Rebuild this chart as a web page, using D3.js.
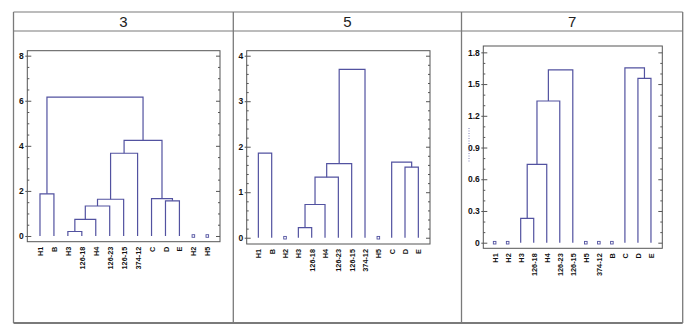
<!DOCTYPE html>
<html><head><meta charset="utf-8">
<script src="https://cdn.jsdelivr.net/npm/d3@7"></script>
<style>body{margin:0;background:#fff} svg{display:block}</style>
</head><body>
<svg id="c" width="700" height="336"></svg>
<script>
const panelTitles = ["3","5","7"];

// Panel "3"
const leaves3 = ["H1","B","H3","126-18","H4","126-23","126-15","374-12","C","D","E","H2","H5"];
const merges3 = [
  ["H1","B",1.87],
  ["H3","126-18",0.2],
  [1,"H4",0.74],
  [2,"126-23",1.33],
  [3,"126-15",1.63],
  [4,"374-12",3.67],
  ["D","E",1.56],
  ["C",6,1.66],
  [5,7,4.24],
  [0,8,6.16]
];
const ticks3 = [0,2,4,6,8];
const minorStep3 = 0.5;

// Panel "5"
const leaves5 = ["H1","B","H2","H3","126-18","H4","126-23","126-15","374-12","H5","C","D","E"];
const merges5 = [
  ["H1","B",1.86],
  ["H3","126-18",0.22],
  [1,"H4",0.73],
  [2,"126-23",1.33],
  [3,"126-15",1.63],
  [4,"374-12",3.70],
  ["D","E",1.55],
  ["C",6,1.66]
];
const ticks5 = [0,1,2,3,4];
const minorStep5 = 0.2;

// Panel "7"
const leaves7 = ["H1","H2","H3","126-18","H4","126-23","126-15","H5","374-12","B","C","D","E"];
const merges7 = [
  ["H3","126-18",0.23],
  [0,"H4",0.74],
  [1,"126-23",1.34],
  [2,"126-15",1.635],
  ["D","E",1.553],
  ["C",4,1.654]
];
const ticks7 = [0,0.3,0.6,0.9,1.2,1.5,1.8];
const minorStep7 = 0.1;

const svg = d3.select("#c");
const lineColor = "#5252a0";

// Outer table
const colX = [13.5, 233.3, 461.5, 682.7];
const tTop = 12, tHead = 31, tBot = 323;
const tbl = svg.append("g").attr("fill","none").attr("stroke","#7a7a7a");
tbl.append("line").attr("x1",colX[0]).attr("x2",colX[3]).attr("y1",tTop).attr("y2",tTop).attr("stroke-width",1.2);
tbl.append("line").attr("x1",colX[0]).attr("x2",colX[3]).attr("y1",tHead).attr("y2",tHead).attr("stroke-width",1.2);
tbl.append("line").attr("x1",colX[0]).attr("x2",colX[3]).attr("y1",tBot).attr("y2",tBot).attr("stroke-width",2);
colX.forEach(x=>tbl.append("line").attr("x1",x).attr("x2",x).attr("y1",tTop).attr("y2",tBot).attr("stroke-width",1.3));
panelTitles.forEach((t,i)=>{
  svg.append("text").attr("x",(colX[i]+colX[i+1])/2).attr("y",26.5)
    .attr("text-anchor","middle").attr("font-family","Liberation Sans, Arial, sans-serif")
    .attr("font-size",15).attr("fill","#222").text(t);
});

const panels = [
  {leaves:leaves3, merges:merges3, ticks:ticks3, minor:minorStep3, x0:27.3, x1:220, pad:0.91,
   dom:[-0.253,8.22], yr:[241.7,50.7]},
  {leaves:leaves5, merges:merges5, ticks:ticks5, minor:minorStep5, x0:246.7, x1:430, pad:0.875,
   dom:[-0.138,4.11], yr:[244,50.7]},
  {leaves:leaves7, merges:merges7, ticks:ticks7, minor:minorStep7, x0:483.3, x1:662.3, pad:0.87,
   dom:[-0.053,1.86], yr:[248.3,46]}
];

panels.forEach(p=>{
  const g = svg.append("g");
  const x = d3.scalePoint().domain(p.leaves).range([p.x0,p.x1]).padding(p.pad);
  const y = d3.scaleLinear().domain(p.dom).range(p.yr);
  const top = p.ticks[p.ticks.length-1];
  const minor = d3.range(0, top + p.minor/2, p.minor).map(v=>+v.toFixed(4))
      .filter(v=>!p.ticks.some(t=>Math.abs(t-v)<1e-6));
  const fmt = v => String(+v.toFixed(2));

  // frame
  g.append("rect").attr("x",p.x0).attr("y",p.yr[1]).attr("width",p.x1-p.x0).attr("height",p.yr[0]-p.yr[1])
    .attr("fill","none").attr("stroke","#555").attr("stroke-width",1);

  const styleAxis = a => { a.select(".domain").remove(); a.selectAll("line").attr("stroke","#555"); };
  // left major (inward) with labels
  const la = g.append("g").attr("transform",`translate(${p.x0},0)`)
    .call(d3.axisLeft(y).tickValues(p.ticks).tickSize(-4).tickPadding(3.5).tickFormat(fmt));
  styleAxis(la);
  la.selectAll("text").attr("font-family","Liberation Sans, Arial, sans-serif")
    .attr("font-size",8.5).attr("font-weight","bold").attr("fill","#111");
  // left outward stubs
  styleAxis(g.append("g").attr("transform",`translate(${p.x0},0)`)
    .call(d3.axisLeft(y).tickValues(p.ticks).tickSize(2).tickFormat("")));
  // left minor
  styleAxis(g.append("g").attr("transform",`translate(${p.x0},0)`)
    .call(d3.axisLeft(y).tickValues(minor).tickSize(-2).tickFormat("")));
  // right major & minor (inward)
  styleAxis(g.append("g").attr("transform",`translate(${p.x1},0)`)
    .call(d3.axisRight(y).tickValues(p.ticks).tickSize(-4).tickFormat("")));
  styleAxis(g.append("g").attr("transform",`translate(${p.x1},0)`)
    .call(d3.axisRight(y).tickValues(minor).tickSize(-2).tickFormat("")));

  // bottom labels
  const ba = g.append("g").attr("transform",`translate(0,${p.yr[0]})`)
    .call(d3.axisBottom(x).tickSize(0).tickPadding(0));
  ba.select(".domain").remove();
  ba.selectAll("text").attr("transform","rotate(-90)").attr("text-anchor","end")
    .attr("x",-5).attr("y",0).attr("dy","0.35em")
    .attr("font-family","Liberation Sans, Arial, sans-serif").attr("font-size",7.3)
    .attr("font-weight","bold").attr("fill","#111");

  // dendrogram links
  const nodes = [];
  const used = new Set();
  const pos = ref => {
    if (typeof ref === "number") return nodes[ref];
    used.add(ref);
    return {x:x(ref), h:0};
  };
  p.merges.forEach(m=>{
    const a = pos(m[0]), b = pos(m[1]), h = m[2];
    g.append("path")
      .attr("d",`M${a.x},${y(a.h)}V${y(h)}H${b.x}V${y(b.h)}`)
      .attr("fill","none").attr("stroke",lineColor).attr("stroke-width",1.2);
    nodes.push({x:(a.x+b.x)/2, h:h});
  });
  // singletons
  p.leaves.filter(l=>!used.has(l)).forEach(l=>{
    g.append("rect").attr("x",x(l)-1.3).attr("y",y(0)-1.3).attr("width",2.6).attr("height",2.6)
      .attr("fill","#fff").attr("stroke",lineColor).attr("stroke-width",0.9);
  });
});

// faint dotted remnant left of panel 7 axis
svg.append("line").attr("x1",469).attr("x2",469).attr("y1",128).attr("y2",163)
  .attr("stroke","#8080b8").attr("stroke-width",1).attr("stroke-dasharray","1,1.5");
</script>
</body></html>
